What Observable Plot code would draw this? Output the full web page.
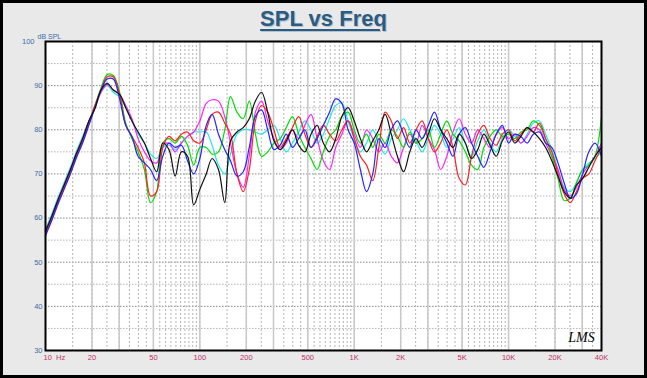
<!DOCTYPE html>
<html><head><meta charset="utf-8">
<script src="https://cdn.jsdelivr.net/npm/d3@7"></script>
<script src="https://cdn.jsdelivr.net/npm/@observablehq/plot@0.6"></script>
<style>
html,body{margin:0;padding:0;}
body{width:647px;height:378px;overflow:hidden;position:relative;background:#e9e9e9;font-family:"Liberation Sans",Arial,sans-serif;}
#frame{position:absolute;left:0;top:0;width:647px;height:378px;box-sizing:border-box;border:3px solid #000;}
#title{position:absolute;left:0;top:6px;width:647px;text-align:center;font:bold 22px "Liberation Sans",Arial,sans-serif;color:#2b5b80;text-decoration:underline;text-decoration-thickness:2px;text-underline-offset:3px;text-shadow:1px 1px 0 #b5c3ce;}
#chart{position:absolute;left:0;top:0;}
</style></head>
<body>
<div id="frame"></div>
<div id="title">SPL vs Freq</div>
<div id="chart"></div>
<script>
const freqs = [10,11,12,13.2,14.5,15.8,17.4,19.1,20.9,22.9,
25.1,27.5,30.2,33.1,36.3,39.8,43.7,47.9,52.5,57.5,
63.1,69.2,75.9,83.2,91.2,100,110,120,132,145,
158,174,191,209,229,251,275,302,331,363,
398,437,479,525,575,631,692,759,832,912,
1000,1096,1202,1318,1445,1585,1738,1905,2089,2291,
2512,2754,3020,3311,3631,3981,4365,4786,5248,5754,
6310,6918,7586,8318,9120,10000,10965,12023,13183,14454,
15849,17378,19055,20893,22909,25119,27542,30200,33113,36308,
40000];

const green = [57,60,63.5,67,70.5,74,77.5,81.5,85.5,89.5,
92.5,92.3,88.5,81.5,78,75,71,63.5,66,77,
78,77,78.5,76.5,72,76,76,74.5,75,80,
87.5,84,82.5,86.5,79,74,75,77,78,80.5,
83,79,76,73.5,71,75,78.5,80,83,84,
80,77,79,76,79,77,80,78.5,76,79.5,
77,78,80,76,79,82,79,77.5,75,72,
71,76,78.5,80,78.5,79,78,79.5,80,82,
81,78,74,69,64,64.5,68,71,72,74,
83];

const red = [56.5,60,63.5,67,70.5,74,77.5,81.5,85.5,89,
92,92,88,81,78.5,76,72.5,65,66,76,
78.5,77.5,79,79.5,77.5,77,80,83.5,84,81.5,
79,70,66,71,82,85.5,84,80,76,78,
80.5,83,79,76,78.5,81,79,77.5,80,82,
78,74,72,68.5,76,84,82,78,80.5,77,
80,82,78,75,77,80,76,69,67.5,74,
79,81,78,76.5,79,80,77.5,79,80.5,79.5,
81.5,78,75,70,65.5,63.5,66,69,70,73,
76];

const blue = [56,59.5,63,66.5,70,73.5,77,81,85,89,
91.5,91.5,87,81,78.5,74,72.5,71,68.5,74,
77,76,76.5,73,70,73.5,81,83.5,79,75.5,
73,69.5,70.5,76,83,84.5,80,75.5,76.5,79,
76,78,80,76,78,81,84,87,86,80,
77,71,66,70,78,76,80,82,79,76,
80,78,81,84,80,77,74,79,80.5,77,
74,71.5,75,79,81,77,79,78.5,77,79,
79.5,77,76,72.5,68,64.5,65.5,70,75,77,
74];

const magenta = [57,60.5,64,67.5,71,74.5,78,82,85,88.5,
90.3,89,88,85.5,82.5,78,75,73,72.5,76.5,
77,75,77,78.5,79.5,82,86,86.8,86.5,83,
77,70,67,74,84,86.5,82,78,75.5,77,
80,78,81,83.5,78,73,71,76,79,82,
79,76,80,78,75,77,74,72.5,76,79,
77,81,78,75.5,71,74,79.5,82.5,79,77,
80,78,76,79,80.5,78,79,77,78.5,80.5,
80,77,74,71,66.5,65,67,70,72,74,
77];

const cyan = [57.5,61,64.5,68,71.5,75,78.5,82,85,88.5,
90,88.5,87.5,85,82,79,77,74.5,73.5,76,
76.5,75.5,77,78.5,79.5,79.5,79.5,76.5,72,70,
74.5,79,80,80,79.5,79,80,81,78,75,
77,79.5,82,80,77,79,82.5,85.5,86,82,
78,75,77,80,77,74.5,78,80,82.5,80,
77.5,75,78,81,79,76,78,80.5,77,74,
77.5,80,77,75,78,80,78.5,77,79,81.5,
82,79,75.5,71,67,66,68,71,72.5,73.5,
75];

const black = [57,60.5,64,67.5,71,74.5,78,82,84.8,89,
90.5,89,88,85,82,79.5,77,73.5,70.5,77,
75.5,69.5,75,74,63,66.5,70,73.5,71,63.5,
77.5,79.5,80.5,82.5,86.5,88.5,84,77.5,75.5,77.5,
80,76.5,75,79,81,77,75,78,83,85,
82,78,75,77.5,80,83.5,79,74,70.5,75,
78,76,79,82.5,80,78,76,79,77,73.5,
75.5,79,76.5,74,77.5,79.5,77,78.5,80.5,79.5,
78,76,73,69.5,66,64.5,67.5,69,71.5,74,
76];

const yTicks = [30,40,50,60,70,80,90];
const xTickValues = [20,50,100,200,500,1000,2000,5000,10000,20000,40000];
const xTickLabels = ["20","50","100","200","500","1K","2K","5K","10K","20K","40K"];
const gridMantissas = [1.5,2,2.5,3,3.5,4,4.5,5,5.5,6,6.5,7,7.5,8,8.5,9,9.5,10];
const decades = [10,100,1000,10000];

const vGrid = [];
decades.forEach(d => gridMantissas.forEach(m => { const f = m*d; if (f < 40000) vGrid.push(f); }));
const vGridMajor = vGrid.filter(f => [1,2,3,5].some(m => decades.some(d => Math.abs(f - m*d) < 1e-6 || Math.abs(f - 10*d) < 1e-6)));
const hGrid10 = [40,50,60,70,80,90];
const hGrid5 = [35,45,55,65,75,85,95];

const seriesList = [
  {name:"cyan", values:cyan, color:"#1ee8e8"},
  {name:"magenta", values:magenta, color:"#ff22ff"},
  {name:"green", values:green, color:"#00dd00"},
  {name:"red", values:red, color:"#ff2020"},
  {name:"blue", values:blue, color:"#2424ff"},
  {name:"black", values:black, color:"#111111"}
];

const yColor = "#3a6ea8";
const xColor = "#c0306a";
const tickFont = "Liberation Sans, Arial, sans-serif";

const marks = [
  Plot.frame({fill:"white"}),
  Plot.ruleY(hGrid5, {stroke:"#b4b4b4", strokeDasharray:"1.5,1.5"}),
  Plot.ruleY(hGrid10, {stroke:"#888", strokeDasharray:"1.5,1.5"}),
  Plot.ruleX(vGrid, {stroke:"#b4b4b4", strokeDasharray:"2,2"}),
  Plot.ruleX(vGridMajor, {stroke:"#c8c8c8", strokeWidth:1.5})
];
seriesList.forEach(s => {
  marks.push(Plot.line(freqs.map((f,i) => ({f, v:s.values[i]})), {x:"f", y:"v", stroke:s.color, strokeWidth:1.2, curve:"catmull-rom"}));
});
marks.push(
  Plot.frame({stroke:"#000", strokeWidth:2}),
  Plot.text(yTicks, {y:d => d, text:d => String(d), frameAnchor:"left", textAnchor:"end", lineAnchor:"middle", dx:-3, fontSize:7.5, fill:yColor, fontFamily:tickFont}),
  Plot.text(xTickValues, {x:d => d, text:(d,i) => xTickLabels[i], frameAnchor:"bottom", textAnchor:"middle", lineAnchor:"middle", dy:7, fontSize:7.5, fill:xColor, fontFamily:tickFont}),
  Plot.text(["100"], {frameAnchor:"top-left", textAnchor:"end", lineAnchor:"middle", dx:-11, fontSize:7.5, fill:yColor, fontFamily:tickFont}),
  Plot.text(["dB SPL"], {frameAnchor:"top-left", textAnchor:"start", lineAnchor:"middle", dx:-8, dy:-5, fontSize:7, fill:yColor, fontFamily:tickFont}),
  Plot.text(["10\u00a0\u00a0Hz"], {frameAnchor:"bottom-left", textAnchor:"start", lineAnchor:"middle", dx:-2, dy:7, fontSize:7.5, fill:xColor, fontFamily:tickFont}),
  Plot.text(["LMS"], {frameAnchor:"bottom-right", textAnchor:"middle", lineAnchor:"middle", dx:-20, dy:-13, fontSize:14, fontStyle:"italic", fill:"#000", fontFamily:"Liberation Serif, serif"})
);

const chart = Plot.plot({
  width:647, height:378,
  marginLeft:45, marginRight:46, marginTop:41, marginBottom:28,
  style:{background:"transparent", overflow:"visible"},
  x:{type:"log", domain:[10,40000], axis:null},
  y:{domain:[30,100], axis:null},
  marks
});
document.getElementById("chart").appendChild(chart);
</script>
</body></html>
